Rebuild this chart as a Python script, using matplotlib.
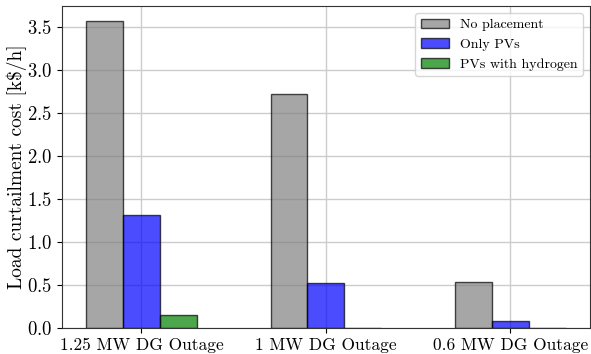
import numpy as np
import matplotlib.pyplot as plt

plt.rcParams['font.family'] = 'cmr10'
plt.rcParams['axes.formatter.use_mathtext'] = True
plt.rcParams['mathtext.fontset'] = 'cm'

# data
scenarios = ['1.25 MW DG Outage', '1 MW DG Outage', '0.6 MW DG Outage']
no_placement = [3.57, 2.72, 0.54]
only_pv = [1.32, 0.53, 0.08]
pv_hydrogen = [0.15, 0.0, 0.0]

x = np.arange(len(scenarios))
w = 0.2

fig, ax = plt.subplots(figsize=(5.91, 3.54), dpi=100)
fig.subplots_adjust(left=0.105, right=0.998, bottom=0.073, top=0.983)

ax.bar(x - w, no_placement, w, color='gray', edgecolor='black', alpha=0.7, label='No placement')
ax.bar(x, only_pv, w, color='blue', edgecolor='black', alpha=0.7, label='Only PVs')
ax.bar(x + w, pv_hydrogen, w, color='green', edgecolor='black', alpha=0.7, label='PVs with hydrogen')

ax.set_xticks(x)
ax.set_xticklabels(scenarios, fontsize=12.5)
ax.tick_params(axis='y', labelsize=13.5)
ax.set_ylabel('Load curtailment cost [k\\$/h]', fontsize=14, labelpad=0)
ax.set_ylim(0, 3.75)
ax.set_axisbelow(True)
ax.grid(True, color='#cccccc', linewidth=1)
ax.legend(fontsize=10, loc='upper right')
for s in ax.spines.values():
    s.set_color('#333333')

plt.savefig('out.png')
